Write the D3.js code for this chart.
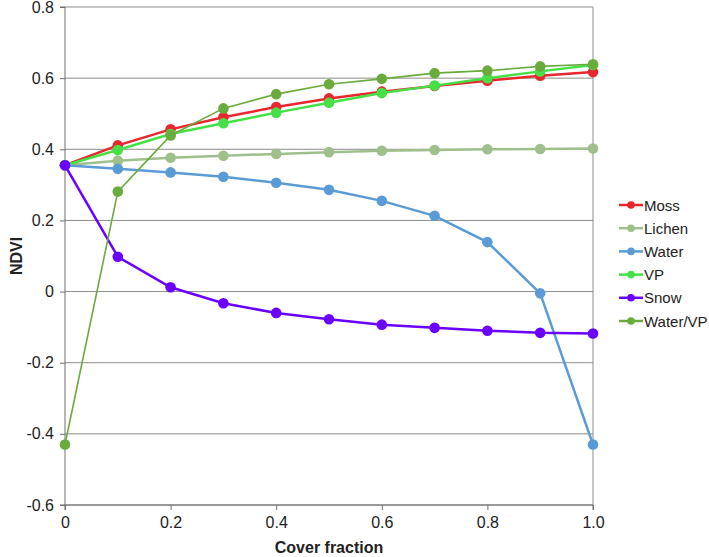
<!DOCTYPE html>
<html><head><meta charset="utf-8">
<script src="https://cdn.jsdelivr.net/npm/d3@7/dist/d3.min.js"></script>
<style>body{margin:0;background:#fff;} text{font-family:"Liberation Sans",Arial,sans-serif;}</style>
</head><body><svg id="c" width="709" height="557"></svg>
<script>
const coverFraction = [0,0.1,0.2,0.3,0.4,0.5,0.6,0.7,0.8,0.9,1.0];
const moss    = [0.355,0.411,0.456,0.490,0.519,0.543,0.562,0.578,0.593,0.607,0.617];
const lichen  = [0.355,0.368,0.376,0.382,0.387,0.392,0.396,0.398,0.400,0.401,0.402];
const water   = [0.355,0.345,0.335,0.323,0.306,0.286,0.255,0.213,0.139,-0.005,-0.43];
const vp      = [0.355,0.398,0.443,0.473,0.503,0.531,0.558,0.579,0.600,0.619,0.637];
const snow    = [0.355,0.098,0.012,-0.033,-0.060,-0.078,-0.093,-0.102,-0.110,-0.116,-0.118];
const waterVP = [-0.43,0.281,0.439,0.515,0.555,0.583,0.598,0.614,0.621,0.633,0.639];
const seriesNames = ["Moss","Lichen","Water","VP","Snow","Water/VP"];
const seriesValues = [moss,lichen,water,vp,snow,waterVP];
const seriesColors = ["#e8262e","#9fc08c","#5b9bd5","#45e045","#6a00ff","#6aab3e"];
const seriesWidths = [2.5,2.5,2.5,2.5,2.5,1.6];
const xTicks = [0,0.2,0.4,0.6,0.8,1.0];
const xTickLabels = ["0","0.2","0.4","0.6","0.8","1.0"];
const yTicks = [-0.6,-0.4,-0.2,0,0.2,0.4,0.6,0.8];
const yTickLabels = ["-0.6","-0.4","-0.2","0","0.2","0.4","0.6","0.8"];

const svg = d3.select("#c");
const L=65, R=593, T=7, B=505;
const x = d3.scaleLinear().domain([0,1]).range([L,R]);
const y = d3.scaleLinear().domain([-0.6,0.8]).range([B,T]);

// gridlines
svg.append("g").selectAll("line").data(yTicks).join("line")
  .attr("x1",L).attr("x2",R).attr("y1",d=>y(d)).attr("y2",d=>y(d))
  .attr("stroke","#8c8c8c").attr("stroke-width",1);
// right border
svg.append("line").attr("x1",R).attr("x2",R).attr("y1",T).attr("y2",B).attr("stroke","#8c8c8c");

// y axis
const yAxis = d3.axisLeft(y).tickValues(yTicks).tickFormat((d,i)=>yTickLabels[i]).tickSize(5).tickPadding(6);
const gy = svg.append("g").attr("transform",`translate(${L},0)`).call(yAxis);
gy.select(".domain").attr("stroke","#6e6e6e").attr("d",`M-5,${T}H0V${B}H-5`);
gy.selectAll(".tick line").attr("stroke","#6e6e6e");
gy.selectAll("text").style("font-size","16px").attr("fill","#222");

// x axis
const xAxis = d3.axisBottom(x).tickValues(xTicks).tickFormat((d,i)=>xTickLabels[i]).tickSize(5).tickPadding(7);
const gx = svg.append("g").attr("transform",`translate(0,${B})`).call(xAxis);
gx.select(".domain").attr("stroke","#6e6e6e").attr("d",`M${L},5V0H${R}V5`);
gx.selectAll(".tick line").attr("stroke","#6e6e6e");
gx.selectAll("text").style("font-size","16px").attr("fill","#222");

// axis titles
svg.append("text").attr("x",(L+R)/2).attr("y",553).attr("text-anchor","middle")
  .style("font-size","16px").style("font-weight","bold").attr("fill","#222").text("Cover fraction");
svg.append("text").attr("transform",`translate(22,${(T+B)/2}) rotate(-90)`).attr("text-anchor","middle")
  .style("font-size","16px").style("font-weight","bold").attr("fill","#222").text("NDVI");

// series
const line = d3.line().x((d,i)=>x(coverFraction[i])).y(d=>y(d));
seriesValues.forEach((vals,k)=>{
  const g = svg.append("g");
  g.append("path").datum(vals).attr("d",line).attr("fill","none")
    .attr("stroke",seriesColors[k]).attr("stroke-width",seriesWidths[k]);
  g.selectAll("circle").data(vals).join("circle")
    .attr("cx",(d,i)=>x(coverFraction[i])).attr("cy",d=>y(d)).attr("r",5.3)
    .attr("fill",seriesColors[k]);
});

// legend
const lg = svg.append("g");
seriesNames.forEach((n,k)=>{
  const yy = 205 + k*23.2;
  lg.append("line").attr("x1",619).attr("x2",643).attr("y1",yy).attr("y2",yy)
    .attr("stroke",seriesColors[k]).attr("stroke-width",2.5);
  lg.append("circle").attr("cx",631).attr("cy",yy).attr("r",3.8).attr("fill",seriesColors[k]);
  lg.append("text").attr("x",644).attr("y",yy+5.5).style("font-size",
    "15px").attr("fill","#222").text(n);
});
</script></body></html>
